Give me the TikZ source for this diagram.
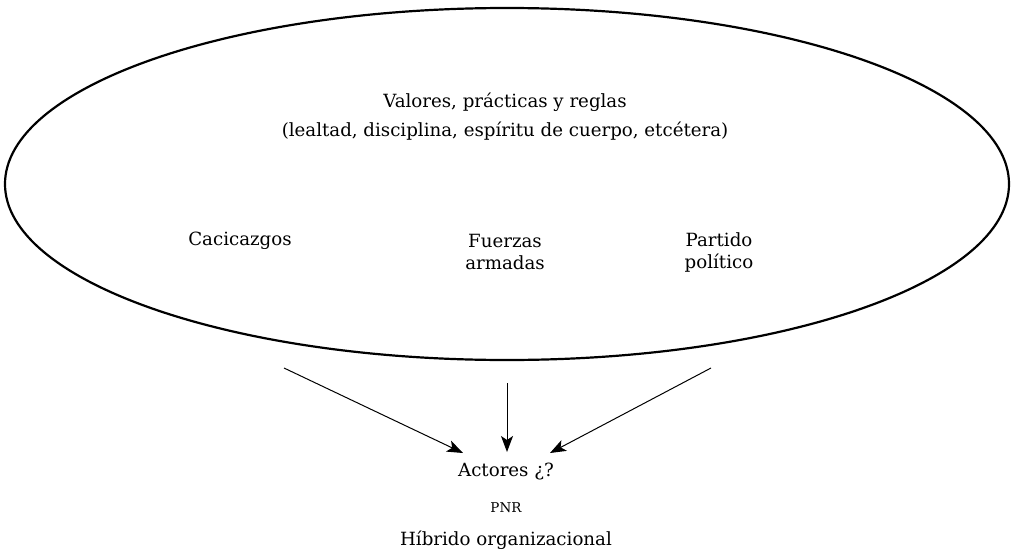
\documentclass[tikz,border=0pt]{standalone}
\usepackage{fontspec}
\setmainfont{DejaVu Serif}
\usetikzlibrary{arrows.meta}
\begin{document}
\begin{tikzpicture}[x=1pt,y=-1pt,
  lbl/.style={font=\fontsize{18.2}{22}\selectfont, align=center, inner sep=0pt},
  small/.style={font=\fontsize{13.5}{15}\selectfont, inner sep=0pt},
  flow/.style={line width=1pt, -{Stealth[length=16pt,width=12pt,inset=4pt]}}]
\useasboundingbox (0,0) rectangle (1012,557);
% outer ellipse
\draw[line width=2.2pt] (507,184) ellipse [x radius=502, y radius=176];
% texts inside the ellipse
\node[lbl] (val) at (505,102) {Valores, prácticas y reglas};
\node[lbl] (val2) at (505,131) {(lealtad, disciplina, espíritu de cuerpo, etcétera)};
\node[lbl] (cac) at (240,241) {Cacicazgos};
\node[lbl] (fue) at (505,252) {Fuerzas\\armadas};
\node[lbl] (par) at (719,252) {Partido\\político};
% targets below
\node[lbl] (act) at (506,472) {Actores ¿?};
\node[small] (pnr) at (506,508) {PNR};
\node[lbl] (hib) at (506,540) {Híbrido organizacional};
% arrow tails
\coordinate (t1) at (284,368);
\coordinate (t2) at (507,383);
\coordinate (t3) at (711,368);
\coordinate (h1) at (463,453);
\coordinate (h2) at (507,452);
\coordinate (h3) at (550,453);
\draw[flow] (t1) -- (h1);
\draw[flow] (t2) -- (h2);
\draw[flow] (t3) -- (h3);
\end{tikzpicture}
\end{document}
